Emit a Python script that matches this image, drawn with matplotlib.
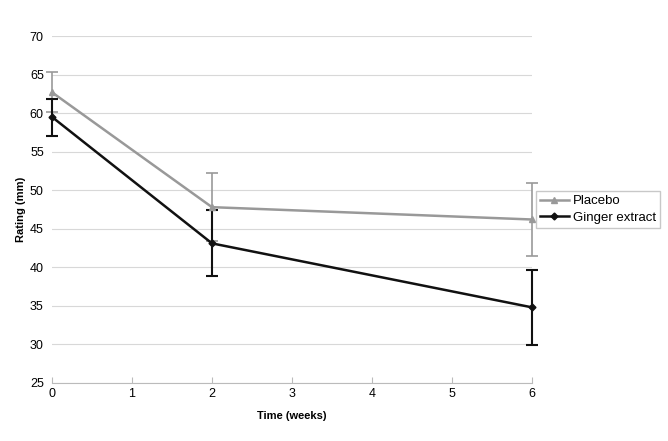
import numpy as np
import matplotlib.pyplot as plt
from matplotlib.lines import Line2D

plt.rcParams['font.family'] = ['Liberation Sans', 'DejaVu Sans']

weeks = [0, 2, 6]
placebo = [62.7, 47.8, 46.2]
placebo_err = [2.6, 4.4, 4.8]
ginger = [59.5, 43.1, 34.8]
ginger_err = [2.4, 4.3, 4.9]

fig = plt.figure(figsize=(6.68, 4.41), dpi=100)
ax = fig.add_axes([0.078, 0.132, 0.718, 0.786])

series = [
    (placebo, placebo_err, '#999999', '^', 4.5, 1.2, 'Placebo'),
    (ginger, ginger_err, '#111111', 'D', 3.5, 1.5, 'Ginger extract'),
]
handles = []
for vals, err, col, mk, ms, ew, name in series:
    cont = ax.errorbar(weeks, vals, yerr=err, color=col, marker=mk,
                       markersize=ms, lw=1.8, capsize=4, elinewidth=ew,
                       capthick=ew)
    for art in cont.lines[1] + cont.lines[2]:
        art.set_clip_on(False)
    cont.lines[0].set_clip_on(False)
    handles.append(Line2D([], [], color=col, marker=mk, markersize=ms,
                          lw=1.8, label=name))

ax.set_xlim(0, 6)
ax.set_ylim(25, 70)
ax.set_yticks(np.arange(25, 71, 5))
ax.set_xticks(range(7))
ax.yaxis.grid(True, color='#d8d8d8', lw=0.8)
ax.set_axisbelow(True)
for s in ['top', 'right', 'left']:
    ax.spines[s].set_visible(False)
ax.spines['bottom'].set_color('#bbbbbb')
ax.tick_params(axis='y', length=0, labelsize=9, pad=6)
ax.tick_params(axis='x', color='#bbbbbb', length=4, direction='in', labelsize=9)
ax.set_xlabel('Time (weeks)', fontsize=8, fontweight='bold', labelpad=8)
ax.set_ylabel('Rating (mm)', fontsize=8, fontweight='bold', labelpad=3)

ax.legend(handles=handles, loc='center left', bbox_to_anchor=(0.995, 0.5),
          fontsize=9.5, frameon=True, fancybox=False, edgecolor='#bbbbbb',
          handlelength=2.2, borderpad=0.3, labelspacing=0.3,
          handletextpad=0.3)

fig.savefig('out.png')
